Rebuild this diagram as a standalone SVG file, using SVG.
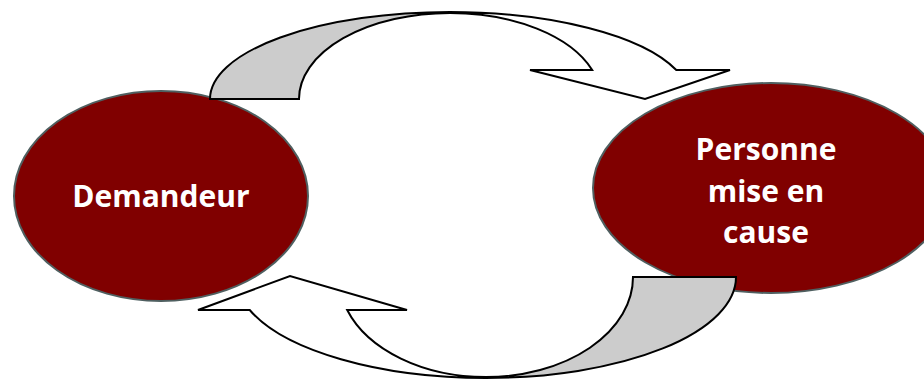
<svg xmlns="http://www.w3.org/2000/svg" width="924" height="379" viewBox="0 0 924 379">
<style>
.node{fill:#800000;stroke:#4f5f60;stroke-width:2}
.lbl{fill:#ffffff;font-family:"Open Sans","DejaVu Sans",sans-serif;font-weight:700;font-size:30px;text-anchor:middle}
.back{fill:#cccccc;stroke:#000000;stroke-width:2;stroke-linejoin:miter}
.front{fill:#ffffff;stroke:#000000;stroke-width:2;stroke-linejoin:miter}
</style>
<rect width="924" height="379" fill="#ffffff"/>
<g id="demandeur">
<ellipse class="node" cx="161" cy="196" rx="147" ry="105"/>
<text class="lbl" x="161" y="207">Demandeur</text>
</g>
<g id="personne">
<ellipse class="node" cx="771" cy="188" rx="178" ry="105"/>
<text class="lbl" x="766" y="160">Personne</text>
<text class="lbl" x="766" y="202">mise en</text>
<text class="lbl" x="766" y="243">cause</text>
</g>
<g id="connectors">
<g id="arrow-top">
<path class="back" d="M210,99 A240,87 0 0 1 450,12 L450,13 A151,86 0 0 0 299,99 Z"/>
<path class="front" d="M450,12 A240,87 0 0 1 676.3,70 L730,70 L645,99 L530,70 L592.2,70 A151,86 0 0 0 450,13 Z"/>
</g>
<g id="arrow-bottom">
<path class="back" d="M736,277 A250,101 0 0 1 486,378 L486,377 A147,100 0 0 0 633,277 Z"/>
<path class="front" d="M486,378 A250,101 0 0 1 249.7,310 L198,310 L290,276 L407,310 L347.2,310 A147,100 0 0 0 486,377 Z"/>
</g>
</g>
</svg>
